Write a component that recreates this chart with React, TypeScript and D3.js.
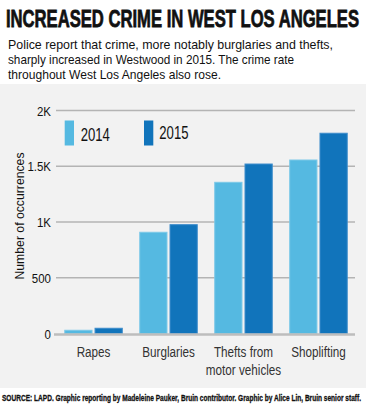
import React from "react";
import * as d3 from "d3";

// Data
const categories = ["Rapes", "Burglaries", "Thefts from motor vehicles", "Shoplifting"];
const categoryLines = [["Rapes"], ["Burglaries"], ["Thefts from", "motor vehicles"], ["Shoplifting"]];
const years = ["2014", "2015"];
const values2014 = [29, 908, 1356, 1556];
const values2015 = [47, 976, 1520, 1796];
const yTicks = [0, 500, 1000, 1500, 2000];
const yTickLabels = ["0", "500", "1K", "1.5K", "2K"];

const colors = { "2014": "#55b9e1", "2015": "#1174bb" };
const font = "'Liberation Sans', Arial, sans-serif";

const W = 366;
const H = 408;

// condensed text: regular font squeezed horizontally, optionally fitted to a width
const Narrow = ({ x, y, s = 0.8, anchor = "start", size = 14, fill = "#111", weight = "normal", width = 0, stroke = "none", sw = 0, children }) => (
  <text
    transform={`translate(${x},${y}) scale(${s},1)`}
    textAnchor={anchor}
    fontFamily={font}
    fontSize={size}
    fontWeight={weight}
    fill={fill}
    stroke={stroke}
    strokeWidth={sw}
    textLength={width ? width / s : undefined}
    lengthAdjust={width ? "spacingAndGlyphs" : undefined}
  >
    {children}
  </text>
);

const App = () => {
  const margin = { top: 110.5, bottom: 74.5, left: 56, right: 10 };
  const y = d3.scaleLinear().domain([0, 2000]).range([H - margin.bottom, margin.top]);
  const x0 = d3
    .scaleBand()
    .domain(categories)
    .range([margin.left, W - margin.right])
    .paddingInner(0.233)
    .paddingOuter(0.117);
  const x1 = d3.scaleBand().domain(years).range([0, x0.bandwidth()]).paddingInner(0.1);

  const series = { "2014": values2014, "2015": values2015 };

  const subtitle = [
    ["Police report that crime, more notably burglaries and thefts,", 325],
    ["sharply increased in Westwood in 2015. The crime rate", 286],
    ["throughout West Los Angeles also rose.", 213],
  ];

  return (
    <svg
      width={W}
      height={H}
      style={{ position: "absolute", left: 0, top: 0, display: "block" }}
    >
      <rect x={0} y={0} width={W} height={H} fill="#ffffff" />
      <rect x={0} y={84} width={W} height={304} fill="#f2f2f2" />

      {/* Title block */}
      <Narrow x={6} y={27} s={0.68} size={24.5} weight="bold" width={353} stroke="#111" sw={0.8}>
        INCREASED CRIME IN WEST LOS ANGELES
      </Narrow>
      {subtitle.map(([line, len], i) => (
        <Narrow key={i} x={8} y={48.5 + i * 15} s={0.85} size={13} width={len}>
          {line}
        </Narrow>
      ))}

      {/* Gridlines and y axis */}
      {yTicks.map((t, i) => (
        <g key={t}>
          {t > 0 && (
            <line
              x1={margin.left}
              x2={W - margin.right - 1}
              y1={y(t)}
              y2={y(t)}
              stroke="#b4b4b4"
              strokeWidth={1.3}
            />
          )}
          <Narrow x={51} y={y(t) + 5} s={0.85} anchor="end" size={13.5}>
            {yTickLabels[i]}
          </Narrow>
        </g>
      ))}
      <text
        transform={`translate(24,${216}) rotate(-90)`}
        textAnchor="middle"
        fontFamily={font}
        fontSize={13}
        textLength={127}
        lengthAdjust="spacingAndGlyphs"
        fill="#111"
      >
        Number of occurrences
      </text>

      {/* Bars */}
      {categories.map((c, ci) => (
        <g key={c} transform={`translate(${x0(c)},0)`}>
          {years.map((yr) => {
            const v = series[yr][ci];
            return (
              <rect
                key={yr}
                x={x1(yr)}
                y={y(v)}
                width={x1.bandwidth()}
                height={y(0) - y(v)}
                fill={colors[yr]}
                stroke={yr === "2014" ? "#7cc9e8" : "#3d8ccb"}
                strokeWidth={1}
              />
            );
          })}
        </g>
      ))}
      <line
        x1={margin.left - 2}
        x2={W - margin.right - 1}
        y1={y(0) + 1}
        y2={y(0) + 1}
        stroke="#bdbdbd"
        strokeWidth={2.5}
      />

      {/* Category labels */}
      {categories.map((c, ci) =>
        categoryLines[ci].map((l, li) => (
          <Narrow
            key={c + li}
            x={(x0(c) as number) + x0.bandwidth() / 2}
            y={357 + li * 18}
            s={0.78}
            anchor="middle"
            size={15}
            fill="#333"
          >
            {l}
          </Narrow>
        ))
      )}

      {/* Legend */}
      {years.map((yr, i) => (
        <g key={yr}>
          <rect x={64.7 + i * 79.3} y={120.5} width={9.3} height={25} fill={colors[yr]} />
          <Narrow x={80.7 + i * 78.6} y={141 - i * 2} s={0.75} size={17.5}>
            {yr}
          </Narrow>
        </g>
      ))}

      {/* Source */}
      <Narrow x={2} y={401} s={0.6} size={9} weight="bold" width={359} stroke="#111" sw={0.3}>
        SOURCE: LAPD. Graphic reporting by Madeleine Pauker, Bruin contributor. Graphic by Alice Lin, Bruin senior staff.
      </Narrow>
    </svg>
  );
};

export default App;
